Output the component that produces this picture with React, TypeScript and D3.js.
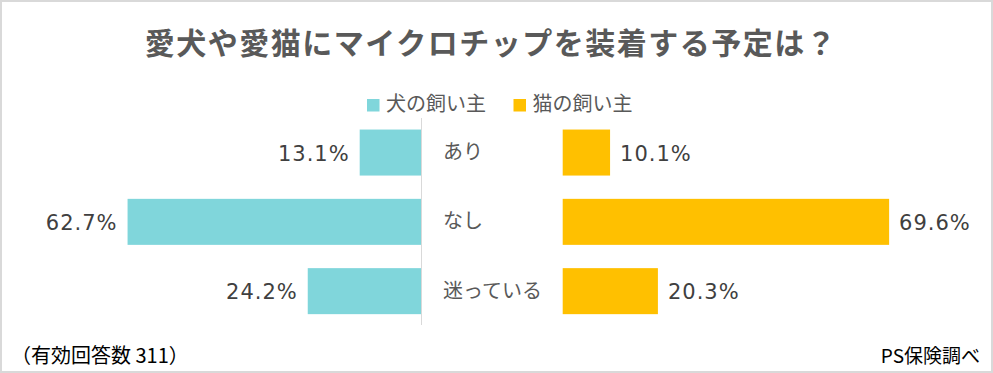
import React, { useEffect, useRef } from 'react';
import * as d3 from 'd3';

const categories = ['あり', 'なし', '迷っている'];
const dogValues = [13.1, 62.7, 24.2];
const catValues = [10.1, 69.6, 20.3];
const seriesNames = ['犬の飼い主', '猫の飼い主'];

const title = '愛犬や愛猫にマイクロチップを装着する予定は？';
const noteLeft = '（有効回答数 311）';
const noteRight = 'PS保険調べ';

const JP_FONT = '"Noto Sans CJK JP", "Noto Sans", sans-serif';
const NUM_FONT = '"DejaVu Sans", Verdana, sans-serif';

const DOG_COLOR = '#80D6DB';
const CAT_COLOR = '#FFC000';

const App: React.FC = () => {
  const svgRef = useRef<SVGSVGElement>(null);

  useEffect(() => {
    if (!svgRef.current) return;

    const width = 993;
    const height = 373;

    const svg = d3.select(svgRef.current).attr('width', width).attr('height', height);
    svg.selectAll('*').remove();

    // background + frame
    svg
      .append('rect')
      .attr('x', 1)
      .attr('y', 1)
      .attr('width', width - 2)
      .attr('height', height - 2)
      .attr('fill', '#fff')
      .attr('stroke', '#d9d9d9')
      .attr('stroke-width', 2);

    // title
    svg
      .append('text')
      .attr('x', 491)
      .attr('y', 41)
      .attr('text-anchor', 'middle')
      .attr('dominant-baseline', 'central')
      .attr('fill', '#595959')
      .attr('font-family', JP_FONT)
      .attr('font-weight', 'bold')
      .attr('font-size', 30)
      .attr('letter-spacing', 1.5)
      .text(title);

    // legend
    const legendItems = [
      { name: seriesNames[0], color: DOG_COLOR, x: 367 },
      { name: seriesNames[1], color: CAT_COLOR, x: 513.5 },
    ];
    const legend = svg.append('g').attr('transform', 'translate(0,105)');
    legendItems.forEach((item) => {
      legend
        .append('rect')
        .attr('x', item.x)
        .attr('y', -6)
        .attr('width', 12.5)
        .attr('height', 12.5)
        .attr('fill', item.color);
      legend
        .append('text')
        .attr('x', item.x + 19)
        .attr('y', -3)
        .attr('dominant-baseline', 'central')
        .attr('fill', '#595959')
        .attr('font-family', JP_FONT)
        .attr('font-size', 20)
        .text(item.name);
    });

    // scales
    const y = d3
      .scaleBand()
      .domain(categories)
      .range([117.9, 325.8])
      .paddingInner(0.336)
      .paddingOuter(0.168);

    const leftZero = 421;
    const rightZero = 562.7;
    const xLeft = d3.scaleLinear().domain([0, 100]).range([leftZero, leftZero - 468]);
    const xRight = d3.scaleLinear().domain([0, 100]).range([rightZero, rightZero + 469]);

    // center divider
    svg
      .append('line')
      .attr('x1', leftZero + 0.5)
      .attr('x2', leftZero + 0.5)
      .attr('y1', 118)
      .attr('y2', 325)
      .attr('stroke', '#d9d9d9')
      .attr('stroke-width', 1);

    const dogData = categories.map((c, i) => ({ cat: c, value: dogValues[i] }));
    const catData = categories.map((c, i) => ({ cat: c, value: catValues[i] }));

    // dog bars (to the left)
    svg
      .selectAll('.dog-bar')
      .data(dogData)
      .enter()
      .append('rect')
      .attr('class', 'dog-bar')
      .attr('x', (d) => xLeft(d.value))
      .attr('y', (d) => y(d.cat) ?? 0)
      .attr('width', (d) => xLeft(0) - xLeft(d.value))
      .attr('height', y.bandwidth())
      .attr('fill', DOG_COLOR);

    svg
      .selectAll('.dog-label')
      .data(dogData)
      .enter()
      .append('text')
      .attr('class', 'dog-label')
      .attr('x', (d) => xLeft(d.value) - 10)
      .attr('y', (d) => (y(d.cat) ?? 0) + y.bandwidth() / 2 + 1)
      .attr('text-anchor', 'end')
      .attr('dominant-baseline', 'central')
      .attr('fill', '#404040')
      .attr('font-family', NUM_FONT)
      .attr('font-size', 21)
      .attr('letter-spacing', 1)
      .text((d) => `${d.value.toFixed(1)}%`);

    // cat bars (to the right)
    svg
      .selectAll('.cat-bar')
      .data(catData)
      .enter()
      .append('rect')
      .attr('class', 'cat-bar')
      .attr('x', xRight(0))
      .attr('y', (d) => y(d.cat) ?? 0)
      .attr('width', (d) => xRight(d.value) - xRight(0))
      .attr('height', y.bandwidth())
      .attr('fill', CAT_COLOR);

    svg
      .selectAll('.cat-label')
      .data(catData)
      .enter()
      .append('text')
      .attr('class', 'cat-label')
      .attr('x', (d) => xRight(d.value) + 10)
      .attr('y', (d) => (y(d.cat) ?? 0) + y.bandwidth() / 2 + 1)
      .attr('dominant-baseline', 'central')
      .attr('fill', '#404040')
      .attr('font-family', NUM_FONT)
      .attr('font-size', 21)
      .attr('letter-spacing', 1)
      .text((d) => `${d.value.toFixed(1)}%`);

    // category labels in the middle
    svg
      .selectAll('.cat-name')
      .data(categories)
      .enter()
      .append('text')
      .attr('class', 'cat-name')
      .attr('x', 443)
      .attr('y', (d) => (y(d) ?? 0) + y.bandwidth() / 2 - 2)
      .attr('dominant-baseline', 'central')
      .attr('fill', '#595959')
      .attr('font-family', JP_FONT)
      .attr('font-size', 20)
      .text((d) => d);

    // footer notes
    svg
      .append('text')
      .attr('x', 11)
      .attr('y', 354)
      .attr('dominant-baseline', 'central')
      .attr('fill', '#000')
      .attr('font-family', JP_FONT)
      .attr('font-size', 20)
      .text(noteLeft);

    svg
      .append('text')
      .attr('x', 980)
      .attr('y', 354)
      .attr('text-anchor', 'end')
      .attr('dominant-baseline', 'central')
      .attr('fill', '#000')
      .attr('font-family', JP_FONT)
      .attr('font-size', 19)
      .text(noteRight);
  }, []);

  return <svg ref={svgRef} style={{ position: 'absolute', left: 0, top: 0 }}></svg>;
};

export default App;
